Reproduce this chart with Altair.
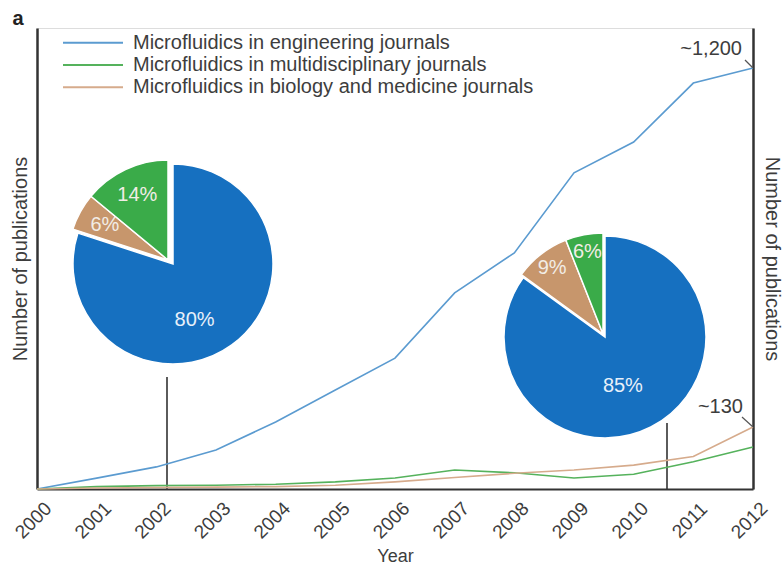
import altair as alt
import pandas as pd

# ---- data -------------------------------------------------------------
years = list(range(2000, 2013))
engineering = [0, 31, 63, 111, 191, 282, 373, 559, 673, 901, 989, 1157, 1200]
multidisciplinary = [0, 5, 7, 8, 10, 15, 23, 40, 34, 23, 31, 57, 88]
biology = [0, 2, 3, 4, 5, 8, 15, 24, 33, 40, 50, 68, 130]

series = [
    "Microfluidics in engineering journals",
    "Microfluidics in multidisciplinary journals",
    "Microfluidics in biology and medicine journals",
]
line_colors = ["#5b9bd0", "#55b25c", "#d6ab8c"]

pie_categories = ["Engineering", "Biology and medicine", "Multidisciplinary"]
pie_colors = ["#1670c0", "#c7966c", "#3aab49"]
shares_2002 = [80, 6, 14]
shares_2011 = [85, 9, 6]

end_labels = ["~1,200", "~130"]

# ---- frames -----------------------------------------------------------
lines_df = pd.DataFrame({
    "year": years * 3,
    "series": [series[0]] * 13 + [series[1]] * 13 + [series[2]] * 13,
    "value": engineering + multidisciplinary + biology,
})
left_df = lines_df[lines_df["series"] == series[0]]
right_df = lines_df[lines_df["series"] != series[0]]

end_left = pd.DataFrame({"year": [years[-1]], "value": [engineering[-1]], "label": [end_labels[0]]})
end_right = pd.DataFrame({"year": [years[-1]], "value": [biology[-1]], "label": [end_labels[1]]})


def pie_frame(shares):
    df = pd.DataFrame({"category": pie_categories, "share": shares})
    df["end"] = df["share"].cumsum()
    df["start"] = df["end"] - df["share"]
    df["mid"] = (df["start"] + df["end"]) / 2
    df["label"] = df["share"].astype(str) + "%"
    return df


# ---- scales / encodings ----------------------------------------------
FONT = "Liberation Sans"
TEXT = "#3d3d3d"

x_scale = alt.Scale(domain=[2000, 2012], nice=False)
left_scale = alt.Scale(domain=[0, 1314], nice=False)
right_scale = alt.Scale(domain=[0, 967], nice=False)
line_color = alt.Color("series:N", scale=alt.Scale(domain=series, range=line_colors), legend=None)
pie_color = alt.Color("category:N", scale=alt.Scale(domain=pie_categories, range=pie_colors), legend=None)
theta_scale = alt.Scale(domain=[0, 100], range=[0, 6.283185])

x_enc = alt.X(
    "year:Q", scale=x_scale,
    axis=alt.Axis(
        title="Year", values=years, format="d", labelAngle=-45, labelAlign="center",
        labelBaseline="middle", labelFontSize=19, labelColor=TEXT, labelPadding=31,
        labelOffset=-4,
        ticks=False, grid=False, domainColor="#333", domainWidth=2,
        titleFontSize=18, titleFontWeight="normal", titleColor=TEXT, titlePadding=5,
    ),
)

y_axis_common = dict(
    title="Number of publications", labels=False, ticks=False, grid=False,
    domainColor="#333", domainWidth=2.5, titleFontSize=20, titleFontWeight="normal",
    titleColor=TEXT,
)

# ---- lines ------------------------------------------------------------
blue_line = alt.Chart(left_df).mark_line(strokeWidth=1.6).encode(
    x=x_enc,
    y=alt.Y("value:Q", scale=left_scale,
            axis=alt.Axis(orient="left", titlePadding=7, **y_axis_common)),
    color=line_color,
)

other_lines = alt.Chart(right_df).mark_line(strokeWidth=1.6).encode(
    x=x_enc,
    y=alt.Y("value:Q", scale=right_scale,
            axis=alt.Axis(orient="right", titlePadding=8, **y_axis_common)),
    color=line_color,
    detail="series:N",
)

# ---- end-value annotations -------------------------------------------
def end_note(df, scale, dx, dy, lead):
    y = alt.Y("value:Q", scale=scale, axis=None)
    text = alt.Chart(df).mark_text(
        align="right", baseline="middle", dx=dx, dy=dy, fontSize=20, font=FONT, color=TEXT
    ).encode(x=x_enc, y=y, text="label:N")
    leader = alt.Chart(df).mark_rule(
        color="#555", strokeWidth=1.2, xOffset=lead[0], yOffset=lead[1]
    ).encode(x=x_enc, x2="year:Q", y=y, y2="value:Q")
    return text + leader


note_left = end_note(end_left, left_scale, -11, -19, (-8, -8))
note_right = end_note(end_right, right_scale, -10, -20, (-11, -10))

# ---- legend ------------------------------------------------------------
legend_df = pd.DataFrame({"series": series})
legend_y = alt.Y("series:N", axis=None,
                 scale=alt.Scale(type="point", domain=series, range=[14.7, 59.3], padding=0))
legend_lines = alt.Chart(legend_df).mark_rule(strokeWidth=2).encode(
    x=alt.value(26), x2=alt.value(86), y=legend_y, color=line_color
)
legend_text = alt.Chart(legend_df).mark_text(
    align="left", baseline="middle", fontSize=20, font=FONT, color=TEXT
).encode(x=alt.value(96), y=legend_y, text="series:N")

# ---- pies --------------------------------------------------------------
def pie(shares, cx, cy, r, shift, big_r, big_turn, small_r):
    df = pie_frame(shares)
    first = alt.datum.category == pie_categories[0]
    rest = alt.datum.category != pie_categories[0]
    base = alt.Chart(df)
    wedge = dict(theta=alt.Theta("start:Q", scale=theta_scale), theta2="end:Q", color=pie_color)
    big = base.transform_filter(first).mark_arc(radius=r, stroke="white", strokeWidth=1.5).encode(
        x=alt.value(cx), y=alt.value(cy), **wedge)
    small = base.transform_filter(rest).mark_arc(radius=r, stroke="white", strokeWidth=1.5).encode(
        x=alt.value(cx + shift[0]), y=alt.value(cy + shift[1]), **wedge)
    big_label = base.transform_filter(first).mark_text(
        radius=big_r, thetaOffset=big_turn, fontSize=20, font=FONT, color="#e8f0fa"
    ).encode(x=alt.value(cx), y=alt.value(cy),
             theta=alt.Theta("mid:Q", scale=theta_scale), text="label:N")
    small_label = base.transform_filter(rest).mark_text(
        radius=small_r, fontSize=20, font=FONT, color="#f2ede6"
    ).encode(x=alt.value(cx + shift[0]), y=alt.value(cy + shift[1]),
             theta=alt.Theta("mid:Q", scale=theta_scale), text="label:N")
    return big + small + big_label + small_label


pie_left = pie(shares_2002, 136, 236, 100, (-5, -4), 60, 0.26, 72)
pie_right = pie(shares_2011, 568, 309, 101, (-2, -3), 52, 0.12, 83)

one_row = alt.Data(values=[{}])
pointer_left = alt.Chart(one_row).mark_rule(color="#333", strokeWidth=1.6).encode(
    x=alt.value(130), y=alt.value(349), y2=alt.value(461))
pointer_right = alt.Chart(one_row).mark_rule(color="#333", strokeWidth=1.6).encode(
    x=alt.value(630), y=alt.value(395), y2=alt.value(461))

panel_tag = alt.Chart(one_row).mark_text(
    text="a", fontSize=20, fontWeight="bold", font=FONT, color="#222"
).encode(x=alt.value(-19), y=alt.value(-9))

chart = alt.layer(
    pie_left, pie_right, pointer_left, pointer_right,
    blue_line, other_lines, note_left, note_right,
    legend_lines, legend_text, panel_tag,
).resolve_scale(
    y="independent", color="independent"
).properties(
    width=716, height=461,
    padding={"left": 37, "top": 28, "right": 30, "bottom": 81},
    autosize=alt.AutoSizeParams(type="none"),
).configure_view(
    stroke=None
).configure(
    font=FONT, background="white"
)

chart.save("out.html", embed_options={"renderer": "svg", "actions": False})
